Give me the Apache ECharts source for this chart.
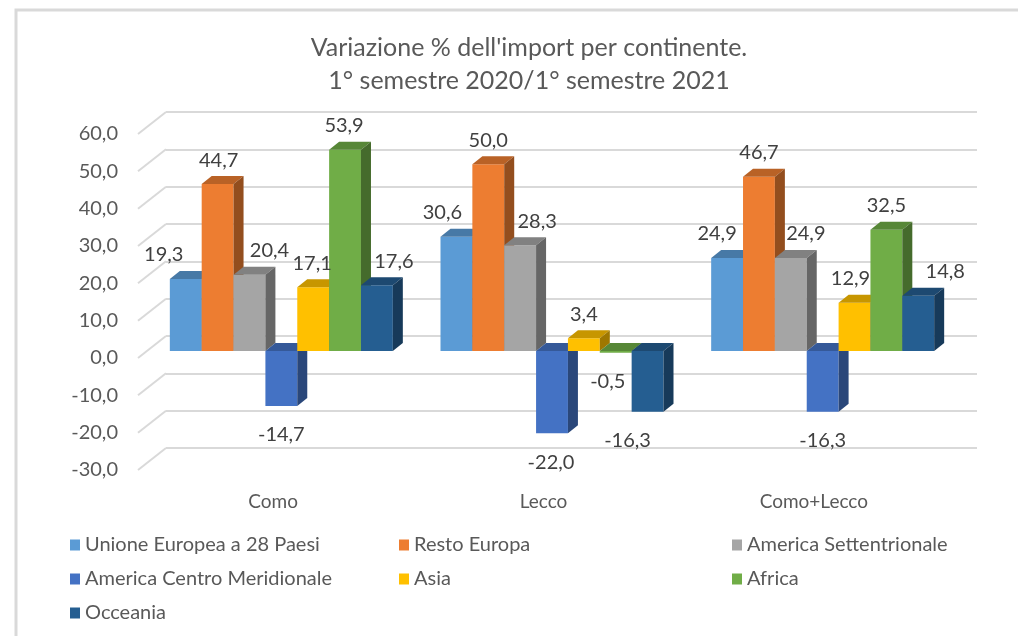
<!DOCTYPE html>
<html>
<head>
<meta charset="utf-8">
<script src="https://cdn.jsdelivr.net/npm/echarts@6/dist/echarts.min.js"></script>
<style>
  html, body { margin: 0; padding: 0; background: #fff; }
  #chart { width: 1018px; height: 636px; }
</style>
</head>
<body>
<div id="chart"></div>
<script>
  // categorie e valori (variazione %)
  var categories = ['Como', 'Lecco', 'Como+Lecco'];
  var seriesNames = ['Unione Europea a 28 Paesi', 'Resto Europa', 'America Settentrionale',
    'America Centro Meridionale', 'Asia', 'Africa', 'Occeania'];
  var ue28 = [19.3, 30.6, 24.9];
  var restoEuropa = [44.7, 50.0, 46.7];
  var americaSett = [20.4, 28.3, 24.9];
  var americaCM = [-14.7, -22.0, -16.3];
  var asia = [17.1, 3.4, 12.9];
  var africa = [53.9, -0.5, 32.5];
  var oceania = [17.6, -16.3, 14.8];
  var yTicks = [-30, -20, -10, 0, 10, 20, 30, 40, 50, 60];

  var values = [ue28, restoEuropa, americaSett, americaCM, asia, africa, oceania];
  var colors = ['#5B9BD5', '#ED7D31', '#A5A5A5', '#4472C4', '#FFC000', '#70AD47', '#255E91'];
  // spostamenti orizzontali delle etichette (come in Excel)
  var labelNudge = [[-22, -14, -10], [1, 0, 0], [20, 17, 15], [0, -1, 0], [-1, 0, -4], [-1, -8, 0], [17, -20, 27]];

  var DX = 10, DY = 8;       // profondita barre
  var FX = 28, FY = 22;      // profondita pavimento
  var FONT = 'Lato, "Open Sans", sans-serif';

  function shade(hex, f) {
    var n = parseInt(hex.slice(1), 16);
    var r = Math.round(((n >> 16) & 255) * f), g = Math.round(((n >> 8) & 255) * f), b = Math.round((n & 255) * f);
    return 'rgb(' + r + ',' + g + ',' + b + ')';
  }
  function fmt(v) { return v.toFixed(1).replace('.', ','); }

  function barGeom(api, k) {
    var ci = api.value(0), v = api.value(1);
    var base = api.coord([ci, 0]);
    var tip = api.coord([ci, v]);
    var w = api.size([1, 0])[0] * 0.1177;
    var x0 = base[0] + (k - 3.5) * w;
    return { x0: x0, w: w, yTop: Math.min(base[1], tip[1]), yBot: Math.max(base[1], tip[1]), v: v, ci: ci };
  }

  var series = [];
  values.forEach(function (vals, k) {
    series.push({
      name: seriesNames[k],
      type: 'custom',
      xAxisIndex: 0, yAxisIndex: 0,
      itemStyle: { color: colors[k] },
      data: vals.map(function (v, i) { return [i, v]; }),
      renderItem: function (params, api) {
        var g = barGeom(api, k);
        var c = colors[k];
        return {
          type: 'group',
          children: [
            { type: 'rect', shape: { x: g.x0, y: g.yTop, width: g.w, height: Math.max(g.yBot - g.yTop, 1) }, style: { fill: c } },
            { type: 'polygon', shape: { points: [[g.x0, g.yTop], [g.x0 + DX, g.yTop - DY], [g.x0 + g.w + DX, g.yTop - DY], [g.x0 + g.w, g.yTop]] }, style: { fill: shade(c, 0.78) } },
            { type: 'polygon', shape: { points: [[g.x0 + g.w, g.yTop], [g.x0 + g.w + DX, g.yTop - DY], [g.x0 + g.w + DX, g.yBot - DY], [g.x0 + g.w, g.yBot]] }, style: { fill: shade(c, 0.62) } }
          ]
        };
      }
    });
  });

  // etichette dati
  var labelData = [];
  values.forEach(function (vals, k) {
    vals.forEach(function (v, i) { labelData.push([i, v, k]); });
  });
  series.push({
    type: 'custom',
    xAxisIndex: 0, yAxisIndex: 0,
    silent: true,
    data: labelData,
    renderItem: function (params, api) {
      var k = api.value(2);
      var g = barGeom(api, k);
      var pos = g.v >= 0 ? g.yTop - 24 : g.yBot + 29;
      return {
        type: 'text',
        style: {
          text: fmt(g.v), x: g.x0 + g.w / 2 + labelNudge[k][g.ci], y: pos,
          align: 'center', verticalAlign: 'middle',
          fill: '#404040', font: '20px ' + FONT
        }
      };
    }
  });

  // linee diagonali del pavimento
  series.push({
    type: 'custom',
    xAxisIndex: 2, yAxisIndex: 2,
    silent: true,
    data: yTicks.map(function (t) { return [0, t]; }),
    renderItem: function (params, api) {
      var p = api.coord([0, api.value(1)]);
      return {
        type: 'line',
        shape: { x1: p[0] - FX, y1: p[1] + FY, x2: p[0], y2: p[1] },
        style: { stroke: '#d9d9d9', lineWidth: 2 }
      };
    }
  });

  var chart = echarts.init(document.getElementById('chart'));
  var legendText = { color: '#595959', fontSize: 20, fontFamily: FONT };
  function legendCol(names, left) {
    return { data: names, orient: 'vertical', left: left, top: 530, itemGap: 14, itemWidth: 10, itemHeight: 11, icon: 'rect', textStyle: legendText };
  }
  chart.setOption({
    backgroundColor: '#fff',
    animation: false,
    title: {
      text: "Variazione % dell'import per continente.\n1° semestre 2020/1° semestre 2021",
      left: 524, top: 26, textAlign: 'center',
      textStyle: { color: '#595959', fontSize: 25, fontWeight: 'normal', fontFamily: FONT, lineHeight: 33 }
    },
    graphic: [
      { type: 'polyline', shape: { points: [[16, 640], [16, 10], [1030, 10]] }, style: { stroke: '#d9d9d9', lineWidth: 3, fill: null }, z: -1 }
    ],
    legend: [
      legendCol([seriesNames[0], seriesNames[3], seriesNames[6]], 65),
      legendCol([seriesNames[1], seriesNames[4]], 394),
      legendCol([seriesNames[2], seriesNames[5]], 727)
    ],
    grid: [
      { left: 146, right: 60, top: 127, bottom: 173 },
      { left: 138, right: 69, top: 134, bottom: 166 },
      { left: 166, right: 41, top: 112, bottom: 188 }
    ],
    xAxis: [
      { gridIndex: 0, type: 'category', data: categories, show: false },
      { gridIndex: 1, type: 'category', data: categories,
        axisLine: { show: false }, axisTick: { show: false },
        axisLabel: { color: '#595959', fontSize: 19, fontFamily: FONT, margin: 22 } },
      { gridIndex: 2, type: 'value', min: 0, max: 3, show: false }
    ],
    yAxis: [
      { gridIndex: 0, type: 'value', min: -30, max: 60, interval: 10, show: false },
      { gridIndex: 1, type: 'value', min: -30, max: 60, interval: 10,
        axisLine: { show: false }, axisTick: { show: false }, splitLine: { show: false },
        axisLabel: { color: '#595959', fontSize: 20, fontFamily: FONT, margin: 20, formatter: function (v) { return fmt(v); } } },
      { gridIndex: 2, type: 'value', min: -30, max: 60, interval: 10,
        axisLine: { show: false }, axisTick: { show: false }, axisLabel: { show: false },
        splitLine: { show: true, lineStyle: { color: '#d9d9d9', width: 2 } } }
    ],
    series: series
  });
</script>
</body>
</html>
